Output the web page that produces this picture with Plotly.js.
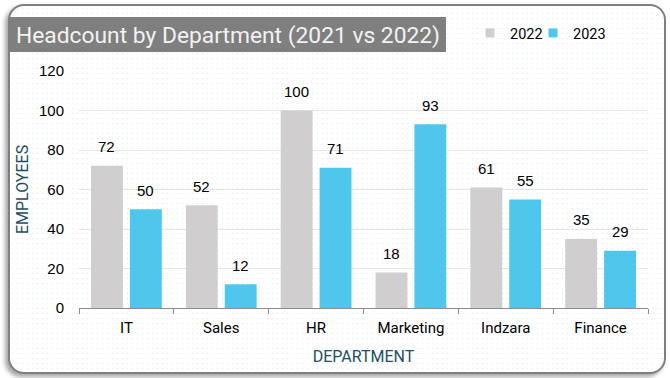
<!DOCTYPE html>
<html>
<head>
<meta charset="utf-8">
<script src="https://cdn.plot.ly/plotly-3.0.1.min.js"></script>
<style>
  html, body { margin: 0; padding: 0; background: #ffffff; }
  #wrap { position: relative; width: 670px; height: 378px; overflow: hidden; background: #ffffff; }
  #frame {
    position: absolute; left: 8px; top: 4px; width: 654px; height: 366px;
    border: 2px solid #7f7f7f; border-radius: 16px;
    box-shadow: -3px 3px 4px rgba(0,0,0,0.35);
    background-color: #ffffff;
    background-image: radial-gradient(circle, #d9eff7 0.6px, rgba(255,255,255,0) 0.8px);
    background-size: 5px 5px;
  }
  #chart { position: absolute; left: 0; top: 0; width: 670px; height: 378px; }
</style>
</head>
<body>
<div id="wrap">
  <div id="frame"></div>
  <div id="chart"></div>
</div>
<script>
const categories = ["IT", "Sales", "HR", "Marketing", "Indzara", "Finance"];
const values2022 = [72, 52, 100, 18, 61, 35];
const values2023 = [50, 12, 71, 93, 55, 29];
const seriesNames = ["2022", "2023"];
const yTicks = [0, 20, 40, 60, 80, 100, 120];

const colors = ["#d0cece", "#4fc7ec"];
const narrow = "Roboto, 'Liberation Sans Narrow', sans-serif";
const regular = "'Liberation Sans', Arial, sans-serif";
const legendIds = ["legend", "legend2"];

const traces = [values2022, values2023].map((vals, i) => ({
  type: "bar",
  name: seriesNames[i],
  x: categories,
  y: vals,
  marker: { color: colors[i] },
  showlegend: false,
  legendgroup: seriesNames[i],
  hoverinfo: "x+y+name"
}));

// legend-only entries with small square swatches (like the original)
seriesNames.forEach((name, i) => {
  traces.push({
    type: "scatter", mode: "markers",
    name: name, legendgroup: name, legend: legendIds[i],
    x: [null], y: [null],
    marker: { symbol: "square", size: 9, color: colors[i] },
    showlegend: true, hoverinfo: "skip"
  });
});

const annotations = [];
[values2022, values2023].forEach((vals, i) => {
  vals.forEach((v, j) => {
    annotations.push({
      x: categories[j], y: v, xref: "x", yref: "y",
      text: String(v), showarrow: false,
      xshift: i === 0 ? -19.5 : 19.5, yshift: 19, yanchor: "middle",
      font: { family: regular, size: 15, color: "#000000" }
    });
  });
});

function legendAt(px) {
  return {
    orientation: "h",
    x: (px - 79) / 569, xanchor: "left",
    y: (308 - 33) / 237, yanchor: "middle",
    font: { family: narrow, size: 14.5, color: "#000000" },
    bgcolor: "rgba(0,0,0,0)",
    itemwidth: 30
  };
}

const layout = {
  width: 670, height: 378,
  margin: { l: 79, r: 22, t: 71, b: 70 },
  paper_bgcolor: "rgba(0,0,0,0)",
  plot_bgcolor: "rgba(0,0,0,0)",
  barmode: "group",
  bargap: 0.18,
  bargroupgap: 0.18,
  title: {
    text: "Headcount by Department (2021 vs 2022)",
    font: { family: narrow, size: 22.8, color: "#f2f2f2" },
    x: 16 / 670, xanchor: "left",
    y: 1 - 35 / 378, yanchor: "middle", xref: "container", yref: "container"
  },
  shapes: [{
    type: "rect", xref: "paper", yref: "paper", layer: "below",
    x0: (10 - 79) / 569, x1: (446 - 79) / 569,
    y0: (308 - 52) / 237, y1: (308 - 17) / 237,
    fillcolor: "#7f7f7f", line: { width: 0 }
  }],
  showlegend: true,
  legend: legendAt(470),
  legend2: legendAt(533),
  xaxis: {
    type: "category",
    showgrid: false,
    showline: true, linecolor: "#8c8c8c", linewidth: 1,
    ticks: "outside", tickson: "boundaries", ticklen: 5, tickcolor: "#8c8c8c",
    ticklabelstandoff: 6,
    tickfont: { family: narrow, size: 15, color: "#000000" },
    title: { text: "DEPARTMENT", font: { family: narrow, size: 16, color: "#1e4e5f" }, standoff: 14 }
  },
  yaxis: {
    range: [0, 120],
    tickvals: yTicks,
    ticktext: yTicks.map(String),
    showgrid: true, gridcolor: "#e6e6e6", gridwidth: 1,
    zeroline: false, showline: false, ticks: "",
    ticklabelstandoff: 14,
    tickfont: { family: regular, size: 15, color: "#000000" },
    title: { text: "EMPLOYEES", font: { family: narrow, size: 16, color: "#1e4e5f" }, standoff: 6 }
  },
  annotations: annotations
};

Plotly.newPlot("chart", traces, layout, { displayModeBar: false, staticPlot: true });
</script>
</body>
</html>
